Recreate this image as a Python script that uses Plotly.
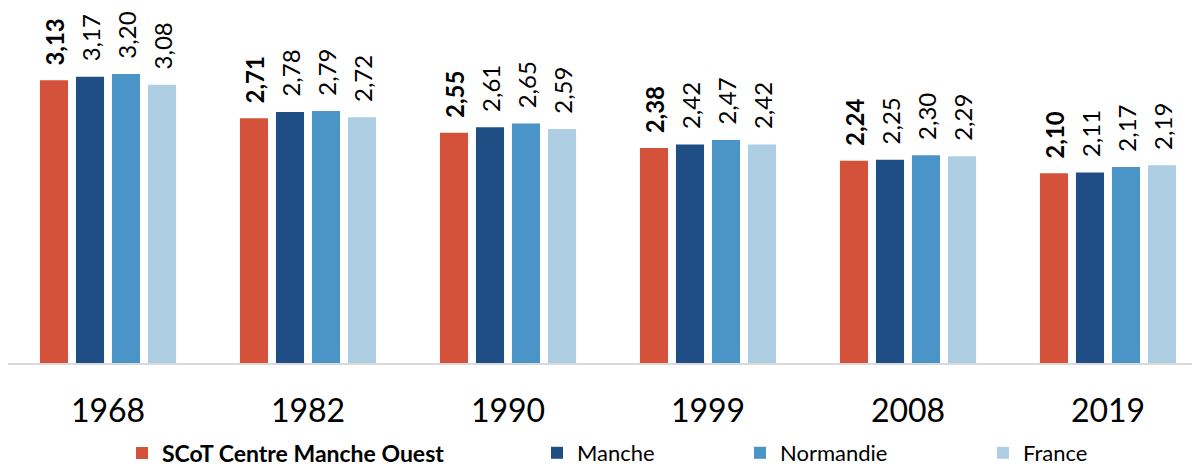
import plotly.graph_objects as go

years = ["1968", "1982", "1990", "1999", "2008", "2019"]
series_names = ["SCoT Centre Manche Ouest", "Manche", "Normandie", "France"]
scot = [3.13, 2.71, 2.55, 2.38, 2.24, 2.10]
manche = [3.17, 2.78, 2.61, 2.42, 2.25, 2.11]
normandie = [3.20, 2.79, 2.65, 2.47, 2.30, 2.17]
france = [3.08, 2.72, 2.59, 2.42, 2.29, 2.19]

values = [scot, manche, normandie, france]
colors = ["#D5523A", "#1F4E85", "#4A94C7", "#AECEE4"]
legend_ids = ["legend", "legend2", "legend3", "legend4"]
legend_px = [114, 529, 732, 975]
legend_size = [23, 22, 22, 22]

FONT = "Lato"
# page body has an 8px margin; figure occupies page x 8..1200, y 8..467
W, H = 1192, 459
ML, MB = 0, 104

fig = go.Figure()
for i, (name, vals, col) in enumerate(zip(series_names, values, colors)):
    fig.add_trace(go.Bar(
        x=years, y=vals, name=name,
        marker=dict(color=col, line=dict(width=0)),
        texttemplate="\u00a0\u00a0%{y:.2f}",
        textposition="outside",
        textangle=-90,
        constraintext="none",
        textfont=dict(family=FONT, size=24, color="black",
                      weight="bold" if i == 0 else "normal"),
        cliponaxis=False,
        legend=legend_ids[i],
    ))

layout_legends = {}
for i, lid in enumerate(legend_ids):
    layout_legends[lid] = dict(
        x=legend_px[i] / W, xanchor="left",
        y=-0.2535, yanchor="middle",
        orientation="h",
        font=dict(family=FONT, size=legend_size[i], color="black",
                  weight="bold" if i == 0 else "normal"),
        bgcolor="rgba(0,0,0,0)",
        itemwidth=30,
    )

fig.update_layout(
    width=W, height=H,
    margin=dict(l=ML, r=0, t=0, b=MB, autoexpand=False),
    plot_bgcolor="white", paper_bgcolor="white",
    separators=", ",
    barmode="group",
    bargap=0.28,
    bargroupgap=0.22,
    showlegend=True,
    **layout_legends,
)
fig.update_xaxes(
    type="category",
    range=[-0.5, 5.46],
    automargin=False,
    showline=True, linecolor="#D9D9D9", linewidth=2,
    showgrid=False, ticks="",
    ticklabelstandoff=19,
    tickfont=dict(family=FONT, size=32, color="black"),
)
fig.update_yaxes(
    range=[0, 3.93],
    automargin=False,
    visible=False, showgrid=False, zeroline=False,
)

fig.write_html("out.html")
